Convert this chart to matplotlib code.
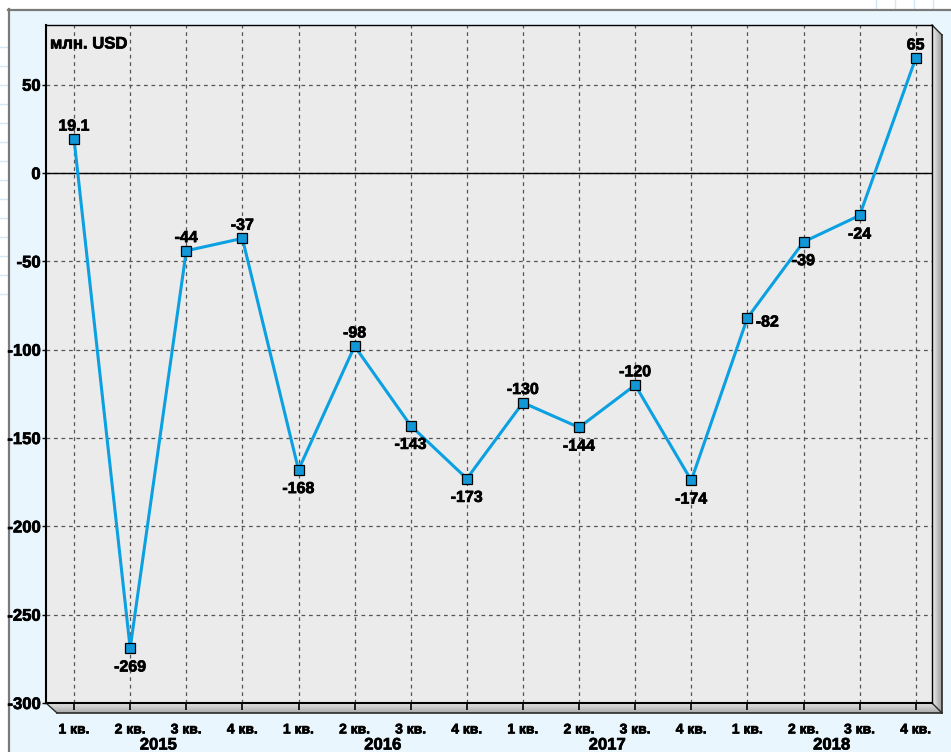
import matplotlib
matplotlib.use("Agg")
import matplotlib.pyplot as plt
import matplotlib.transforms as mtransforms
import matplotlib.patheffects as pe
from matplotlib.patches import Polygon, Rectangle
import numpy as np

plt.rcParams['font.family'] = ['Liberation Sans', 'DejaVu Sans']
plt.rcParams['font.weight'] = 'bold'

# Quarterly values, mln USD
quarters = ["1 кв.", "2 кв.", "3 кв.", "4 кв."]
years = ["2015", "2016", "2017", "2018"]
values = [19.1, -269, -44, -37, -168, -98, -143, -173,
          -130, -144, -120, -174, -82, -39, -24, 65]
value_labels = ["19.1", "-269", "-44", "-37", "-168", "-98", "-143", "-173",
                "-130", "-144", "-120", "-174", "-82", "-39", "-24", "65"]
label_side = ["up", "down", "up", "up", "down", "up", "down", "down",
              "up", "down", "up", "down", "right", "down", "down", "up"]
yticks = [50, 0, -50, -100, -150, -200, -250, -300]

# slightly heavier glyphs
heavy = [pe.withStroke(linewidth=0.5, foreground="black")]

W, H = 951, 752
fig = plt.figure(figsize=(W / 100, H / 100), dpi=100, facecolor="white")

# Background layer in pixel coordinates (origin top-left)
bg = fig.add_axes([0, 0, 1, 1], zorder=0)
bg.set_xlim(0, W)
bg.set_ylim(H, 0)
bg.axis("off")

# page decoration lines
for y in np.arange(47, 300, 19):
    bg.plot([0, 8], [y, y], color="#d3e8f6", lw=1)
for x in [876, 895, 914, 933]:
    bg.plot([x, x], [0, 9], color="#d3e8f6", lw=1)

# light blue panel with gray border
bg.add_patch(Rectangle((8, 9), W, H, facecolor="#eaf6fd", edgecolor="none"))
bg.plot([8, W], [9.5, 9.5], color="#7a7a7a", lw=1.6)
bg.plot([8.5, 8.5], [9, H], color="#7a7a7a", lw=1.6)

L, T, R, B = 46, 25, 932, 703
D = 10  # depth of the 3D floor / wall

# floor with vertical gradient
floor = Polygon([(L, B), (R, B), (R + D, B + D), (L + 11, B + D)], closed=True,
                facecolor="none", edgecolor="none")
bg.add_patch(floor)
grad = np.linspace(0, 1, 64).reshape(-1, 1)
im = bg.imshow(grad, extent=[L, R + D, B + D, B], cmap=matplotlib.colors.LinearSegmentedColormap.from_list(
    "fl", ["#e6e6e6", "#a8a8a8"]), aspect="auto", interpolation="bicubic", zorder=1)
im.set_clip_path(floor)
bg.plot([L + 11, R + D], [B + D, B + D], color="#2a2a2a", lw=1.2, zorder=2)
bg.plot([L, L + 11], [B, B + D], color="#2a2a2a", lw=1.0, zorder=2)

# right wall with horizontal gradient
wall = Polygon([(R, T), (R + D, T + D), (R + D, B + D), (R, B)], closed=True,
               facecolor="none", edgecolor="none")
bg.add_patch(wall)
gradw = np.linspace(0, 1, 64).reshape(1, -1)
imw = bg.imshow(gradw, extent=[R, R + D, B + D, T], cmap=matplotlib.colors.LinearSegmentedColormap.from_list(
    "wl", ["#f2f2f2", "#9c9c9c"]), aspect="auto", interpolation="bicubic", zorder=1)
imw.set_clip_path(wall)
bg.plot([R, R + D], [T, T + D], color="#2a2a2a", lw=1.0, zorder=2)
bg.plot([R + D, R + D], [T + D, B + D], color="#2a2a2a", lw=1.2, zorder=2)
bg.plot([R, R + D], [B, B + D], color="#2a2a2a", lw=1.0, zorder=2)

# Main plot area
ax = fig.add_axes([L / W, (H - B) / H, (R - L) / W, (B - T) / H], zorder=1)
ax.set_facecolor("#ebebeb")

n = len(values)
x = np.arange(n)
ax.set_xlim(-0.5, 15.29)
ax.set_ylim(-300, 83.8)

ax.set_yticks(yticks)
ax.set_yticklabels([str(v) for v in yticks], fontsize=12, fontweight="bold")
ax.set_xticks(x)
ax.set_xticklabels(quarters * len(years), fontsize=10, fontweight="bold")
ax.tick_params(axis="y", length=3, width=1, pad=1, direction="out")
ax.tick_params(axis="x", length=5, width=1.2, pad=9, direction="out")
for t in ax.get_xticklabels() + ax.get_yticklabels():
    t.set_path_effects(heavy)

ax.grid(True, color="#555555", linestyle=(0, (3, 3)), linewidth=0.9)
ax.set_axisbelow(True)
ax.axhline(0, color="black", lw=1, zorder=1.5)

for side in ["left", "bottom"]:
    ax.spines[side].set_linewidth(1.5)
for side in ["top", "right"]:
    ax.spines[side].set_linewidth(1.0)

ax.plot(x, values, color="#0aa0e2", lw=2.2, zorder=3,
        marker="s", markersize=7.6, markerfacecolor="#1298d8",
        markeredgecolor="black", markeredgewidth=0.9)

for xi, v, lab, side in zip(x, values, value_labels, label_side):
    if side == "up":
        off, ha = (0, 9.5), "center"
    elif side == "down":
        off, ha = (0, -13.5), "center"
    else:
        off, ha = (6, -3), "left"
    ax.annotate(lab, (xi, v), xytext=off, textcoords="offset points",
                ha=ha, va="center", fontsize=11.5, fontweight="bold", zorder=4,
                path_effects=heavy)

# unit label
ax.text(50, 44, "млн. USD", transform=bg.transData, ha="left", va="center",
        fontsize=12, fontweight="bold", zorder=4, path_effects=heavy)

# year labels under each group of quarters
blend = mtransforms.blended_transform_factory(ax.transData, bg.transData)
for i, yr in enumerate(years):
    ax.text(4 * i + 1.5, 745, yr, transform=blend, ha="center", va="center",
            fontsize=12, fontweight="bold", clip_on=False, path_effects=heavy)

fig.savefig("out.png", dpi=100, facecolor="white")
